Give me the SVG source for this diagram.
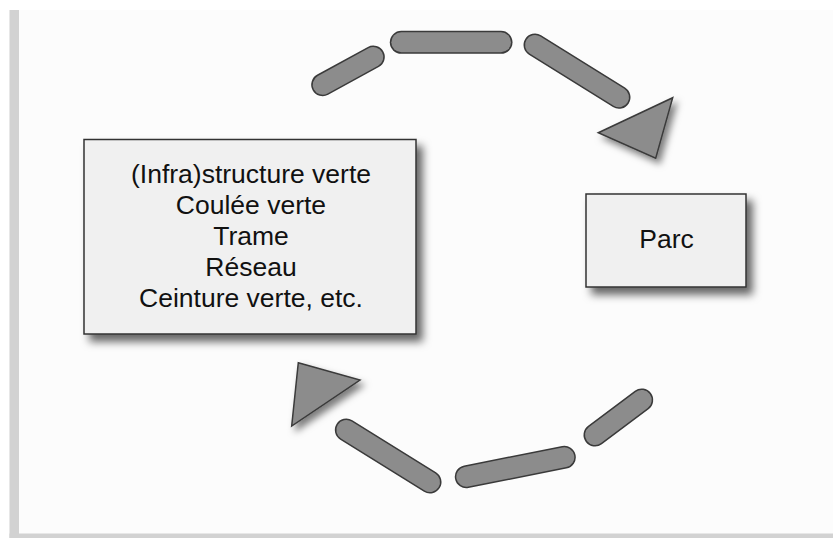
<svg xmlns="http://www.w3.org/2000/svg" width="833" height="538" viewBox="0 0 833 538">
<defs>
<filter id="sh" x="-20%" y="-20%" width="150%" height="150%">
<feDropShadow dx="6" dy="7" stdDeviation="4" flood-color="#000" flood-opacity="0.6"/>
</filter>
<filter id="shs" x="-30%" y="-30%" width="170%" height="170%">
<feDropShadow dx="4" dy="5" stdDeviation="3.5" flood-color="#000" flood-opacity="0.5"/>
</filter>
</defs>
<style>
.box{fill:#f0f0f0;stroke:#333;stroke-width:1.5}
.lbl{font-family:"Liberation Sans",Arial,sans-serif;font-size:26.5px;fill:#111;text-anchor:middle}
.dashO{stroke:#3a3a3a;stroke-width:23;stroke-linecap:round;fill:none}
.dashI{stroke:#8c8c8c;stroke-width:20;stroke-linecap:round;fill:none}
.tri{fill:#8c8c8c;stroke:#3a3a3a;stroke-width:1.5;stroke-linejoin:miter}
</style>
<rect x="0" y="0" width="833" height="538" fill="#ffffff"/>
<rect x="9.5" y="10" width="824" height="528" fill="#fcfcfc"/>
<rect x="9.5" y="10" width="9.5" height="528" fill="#d2d2d2"/>
<rect x="9.5" y="533.5" width="824" height="4.5" fill="#d2d2d2"/>
<g id="connectors">
<g id="arc-top">
<line class="dashO" x1="322.7" y1="84.7" x2="373.3" y2="57"/>
<line class="dashI" x1="322.7" y1="84.7" x2="373.3" y2="57"/>
<line class="dashO" x1="401.3" y1="42.3" x2="501" y2="42.3"/>
<line class="dashI" x1="401.3" y1="42.3" x2="501" y2="42.3"/>
<line class="dashO" x1="535" y1="45" x2="619" y2="97.3"/>
<line class="dashI" x1="535" y1="45" x2="619" y2="97.3"/>
<polygon class="tri" filter="url(#shs)" points="598.3,132.7 672.7,97.7 655.7,158.3"/>
</g>
<g id="arc-bottom">
<line class="dashO" x1="346.3" y1="430" x2="430" y2="482"/>
<line class="dashI" x1="346.3" y1="430" x2="430" y2="482"/>
<line class="dashO" x1="466.3" y1="476.7" x2="564.3" y2="457.3"/>
<line class="dashI" x1="466.3" y1="476.7" x2="564.3" y2="457.3"/>
<line class="dashO" x1="595" y1="435" x2="641.7" y2="400"/>
<line class="dashI" x1="595" y1="435" x2="641.7" y2="400"/>
<polygon class="tri" filter="url(#shs)" points="298.3,362.7 360,380 291.7,426"/>
</g>
</g>
<g id="node-green">
<rect class="box" filter="url(#sh)" x="84" y="139.5" width="332" height="194.5"/>
<text class="lbl" x="251" y="183">(Infra)structure verte</text>
<text class="lbl" x="251" y="214">Coulée verte</text>
<text class="lbl" x="251" y="245">Trame</text>
<text class="lbl" x="251" y="276">Réseau</text>
<text class="lbl" x="251" y="307">Ceinture verte, etc.</text>
</g>
<g id="node-parc">
<rect class="box" filter="url(#sh)" x="586" y="194" width="160" height="93"/>
<text class="lbl" x="666.5" y="248">Parc</text>
</g>
</svg>
